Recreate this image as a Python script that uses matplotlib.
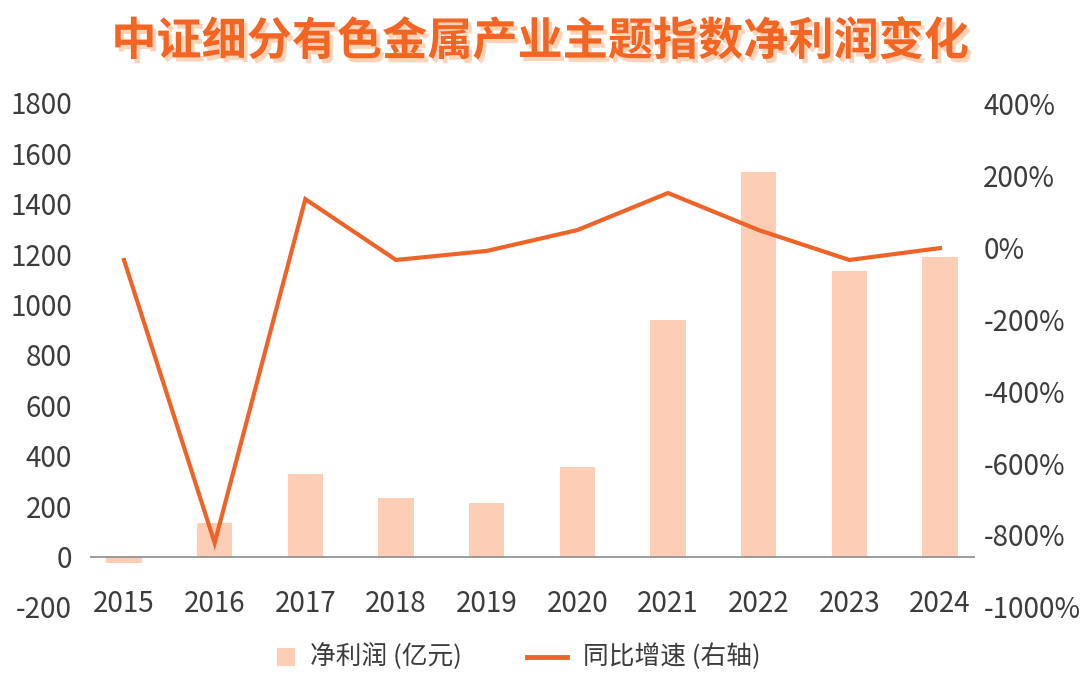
import matplotlib.pyplot as plt
import matplotlib.patheffects as pe
from matplotlib.patches import Rectangle
from matplotlib.lines import Line2D

plt.rcParams['font.family'] = ['Noto Sans CJK SC', 'DejaVu Sans']

years = ['2015', '2016', '2017', '2018', '2019', '2020', '2021', '2022', '2023', '2024']
profit = [-25, 135, 329, 234, 214, 357, 940, 1527, 1134, 1190]   # 亿元
growth = [-36, -822, 133, -36, -11, 47, 150, 47, -36, -3]         # %

left_ticks = list(range(-200, 1801, 200))
right_ticks = list(range(-1000, 401, 200))

bar_color = '#FDCDB6'
line_color = '#EE6428'
text_color = '#3C3C3C'

W, H = 1080, 691
fig = plt.figure(figsize=(W / 100, H / 100), dpi=100)
ax = fig.add_axes([90 / W, 1 - 607 / H, 885 / W, 504 / H])
ax2 = ax.twinx()

x = list(range(len(years)))
ax.bar(x, profit, width=0.39, color=bar_color, zorder=2)
ax.axhline(0, color='#8C8C8C', linewidth=1.2, zorder=3)
ax2.plot(x, growth, color=line_color, linewidth=3, solid_joinstyle='miter', zorder=4)

ax.set_xlim(-0.375, 9.386)
ax.set_ylim(-200, 1800)
ax2.set_ylim(-1000, 400)
ax.set_yticks(left_ticks)
ax.set_yticklabels([str(t) for t in left_ticks])
ax2.set_yticks(right_ticks)
ax2.set_yticklabels([f'{t}%' for t in right_ticks])
ax.set_xticks(x)
ax.set_xticklabels(years)

for a in (ax, ax2):
    for s in a.spines.values():
        s.set_visible(False)
ax.tick_params(axis='y', length=0, pad=13, labelsize=20, labelcolor=text_color)
ax2.tick_params(axis='y', length=0, pad=6, labelsize=20, labelcolor=text_color)
ax.tick_params(axis='x', length=0, pad=-13, labelsize=20, labelcolor=text_color)

fig.text(0.5, 1 - 42 / H, '中证细分有色金属产业主题指数净利润变化', ha='center', va='center',
         fontsize=32.5, fontweight='bold', color='#F26522',
         path_effects=[pe.withSimplePatchShadow(offset=(2.5, -3), shadow_rgbFace='#FCD3B8', alpha=1.0)])

# legend, drawn by hand
ly = 1 - 657 / H
fig.patches.append(Rectangle((277 / W, ly - 9 / H), 18 / W, 18 / H, transform=fig.transFigure,
                             facecolor=bar_color, edgecolor='none'))
fig.text(310 / W, ly, '净利润 (亿元)', ha='left', va='center', fontsize=18.5, color=text_color)
fig.lines.append(Line2D([527 / W, 567 / W], [ly, ly], transform=fig.transFigure,
                        color=line_color, linewidth=3.5))
fig.text(583 / W, ly, '同比增速 (右轴)', ha='left', va='center', fontsize=18.5, color=text_color)

fig.savefig('out.png', dpi=100)
